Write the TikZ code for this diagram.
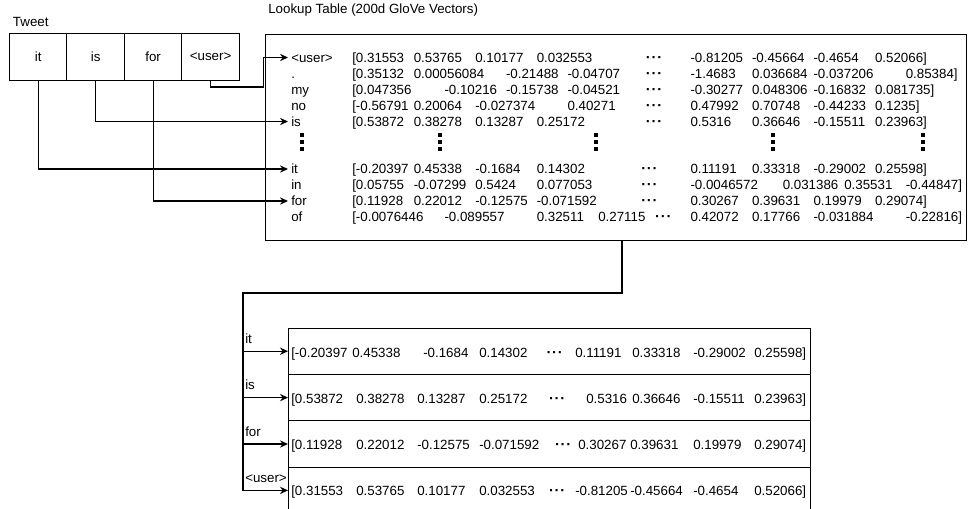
\documentclass[tikz,border=0pt]{standalone}
\usepackage{fontspec}
\setmainfont{Liberation Sans}
\usetikzlibrary{positioning,fit,arrows.meta}

\newcommand\dts{{\fontsize{11}{12}\selectfont\bfseries ·\kern0.6pt·\kern0.6pt·}}
% one line of the lookup table: name, word, y, value/tab list
\newcommand\lutrow[4]{%
  \node[wd] (w#1) at (288,#3) {#2};
  \foreach \v/\k [count=\i] in {#4} \node[num] (#1-\i) at (352+30.75*\k,#3) {\v};}
% one looked-up vector: row name, y, value/x list
\newcommand\vecrow[3]{%
  \foreach \v/\x [count=\i] in {#3} \node[num] (#1-\i) at (\x,#2) {\v};}

\begin{document}
\begin{tikzpicture}[x=0.75pt,y=-0.75pt,font=\fontsize{10}{12}\selectfont,
  tcell/.style={rectangle,draw,line width=0.75pt,outer sep=0pt,minimum width=43.1pt,minimum height=34.7pt},
  vrow/.style={rectangle,draw,line width=0.75pt,outer sep=0pt,minimum width=391.5pt,minimum height=34.8pt},
  wd/.style={anchor=west,inner xsep=2.25pt,inner ysep=0pt,text height=7.2pt,text depth=0pt},
  num/.style={anchor=west,inner sep=0pt,text height=7.2pt,text depth=0pt},
  lbl/.style={anchor=base west,inner sep=0pt,xshift=1.5pt,yshift=6pt},
  arr/.style={line width=0.9pt,-{Stealth[length=6pt,width=5.5pt]}}]
  \useasboundingbox (0,0) rectangle (968,508);

  % tweet
  \node[anchor=west,inner sep=0pt] (tw) at (12.7,22) {Tweet};
  \node[tcell] (t1) at (38.2,56.9) {it};
  \node[tcell,right=0pt of t1] (t2) {is};
  \node[tcell,right=0pt of t2] (t3) {for};
  \node[tcell,right=0pt of t3] (t4) {<user>};

  % lookup table
  \node[anchor=west,inner sep=0pt] (lt) at (268,10) {Lookup Table (200d GloVe Vectors)};
  \node[draw,line width=0.75pt,inner sep=0pt,fit={(265,34) (966.5,240.5)}] (lut) {};
  \lutrow{user}{<user>}{57.5}{[0.31553/0,0.53765/2,0.10177/4,0.032553/6,\dts/9.55,-0.81205/11,-0.45664/13,-0.4654/15,0.52066]/17}
  \lutrow{dot}{.}{73.5}{[0.35132/0,0.00056084/2,-0.21488/5,-0.04707/7,\dts/9.55,-1.4683/11,0.036684/13,-0.037206/15,0.85384]/18}
  \lutrow{my}{my}{89.5}{[0.047356/0,-0.10216/3,-0.15738/5,-0.04521/7,\dts/9.55,-0.30277/11,0.048306/13,-0.16832/15,0.081735]/17}
  \lutrow{no}{no}{105.5}{[-0.56791/0,0.20064/2,-0.027374/4,0.40271/7,\dts/9.55,0.47992/11,0.70748/13,-0.44233/15,0.1235]/17}
  \lutrow{is}{is}{121.5}{[0.53872/0,0.38278/2,0.13287/4,0.25172/6,\dts/9.55,0.5316/11,0.36646/13,-0.15511/15,0.23963]/17}
  \lutrow{it}{it}{169}{[-0.20397/0,0.45338/2,-0.1684/4,0.14302/6,\dts/9.4,0.11191/11,0.33318/13,-0.29002/15,0.25598]/17}
  \lutrow{in}{in}{185}{[0.05755/0,-0.07299/2,0.5424/4,0.077053/6,\dts/9.4,-0.0046572/11,0.031386/14,0.35531/16,-0.44847]/18}
  \lutrow{for}{for}{201}{[0.11928/0,0.22012/2,-0.12575/4,-0.071592/6,\dts/9.4,0.30267/11,0.39631/13,0.19979/15,0.29074]/17}
  \lutrow{of}{of}{217}{[-0.0076446/0,-0.089557/3,0.32511/6,0.27115/8,\dts/9.85,0.42072/11,0.17766/13,-0.031884/15,-0.22816]/18}
  \foreach \x in {302,440,596,773,923}
    \foreach \d in {0,7,14} \fill (\x-1.8,133+\d) rectangle ++(3.6,3.6);

  \draw[arr] (t1.south) |- (wit.west);
  \draw[arr] (t2.south) |- (wis.west);
  \draw[arr] (t3.south) |- (wfor.west);
  \draw[arr] (t4.south) -- ++(0,7) -- ++(52.5,0) |- (wuser.west);

  % looked-up vectors
  \node[vrow] (r1) at (549,351.2) {};
  \node[vrow,below=0pt of r1] (r2) {};
  \node[vrow,below=0pt of r2] (r3) {};
  \node[vrow,below=0pt of r3] (r4) {};
  \vecrow{r1}{353}{[-0.20397/291,0.45338/352,-0.1684/423,0.14302/479,\dts/546.3,0.11191/575,0.33318/632,-0.29002/693,0.25598]/754}
  \vecrow{r2}{398.5}{[0.53872/291,0.38278/356,0.13287/417,0.25172/479,\dts/548.8,0.5316/586,0.36646/632,-0.15511/693,0.23963]/754}
  \vecrow{r3}{445}{[0.11928/291,0.22012/356,-0.12575/417,-0.071592/479,\dts/554.8,0.30267/578,0.39631/630,0.19979/693,0.29074]/754}
  \vecrow{r4}{491}{[0.31553/291,0.53765/356,0.10177/417,0.032553/479,\dts/548.8,-0.81205/575,-0.45664/630,-0.4654/693,0.52066]/754}

  \coordinate (bus) at (243,293);
  \draw[arr] ([xshift=4.7pt]lut.south) |- (bus) |- (r4.west);
  \foreach \r/\t in {r1/it,r2/is,r3/for} {
    \draw[arr] (bus |- \r.west) -- (\r.west);
    \node[lbl] (l\r) at (bus |- \r.west) {\t};
  }
  \node[lbl] (lr4) at (bus |- r4.west) {<user>};
\end{tikzpicture}
\end{document}
